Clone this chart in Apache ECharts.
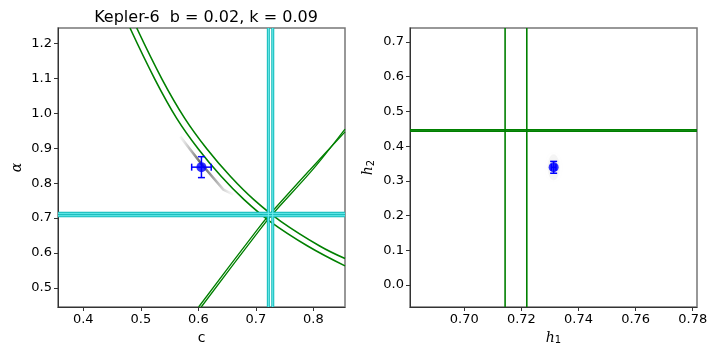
<!DOCTYPE html>
<html>
<head>
<meta charset="utf-8">
<script src="https://cdn.jsdelivr.net/npm/echarts@6/dist/echarts.min.js"></script>
<style>
  html, body { margin: 0; padding: 0; background: #fff; }
  #main { width: 720px; height: 360px; }
</style>
</head>
<body>
<div id="main"></div>
<script>
// left panel: c vs alpha
var leftXTicks = [0.4, 0.5, 0.6, 0.7, 0.8];
var leftYTicks = [0.5, 0.6, 0.7, 0.8, 0.9, 1.0, 1.1, 1.2];
var decOuter = [[0.4812, 1.245], [0.5245, 1.098], [0.5624, 0.986], [0.6, 0.898], [0.64, 0.819], [0.68, 0.752], [0.725, 0.690], [0.79, 0.620], [0.855, 0.563]];
var decInner = [[0.4929, 1.245], [0.537, 1.098], [0.5764, 0.986], [0.615, 0.898], [0.656, 0.819], [0.697, 0.752], [0.744, 0.690], [0.811, 0.620], [0.855, 0.584]];
var incA = [[0.6005, 0.445], [0.7016, 0.665], [0.7247, 0.7116], [0.7943, 0.8387], [0.855, 0.947]];
var incB = [[0.6050, 0.445], [0.7061, 0.665], [0.7292, 0.7116], [0.7988, 0.8387], [0.855, 0.955]];
var cLines = [0.7217, 0.7294];
var aLines = [0.7066, 0.7136];
var streak = [[0.5685, 0.9335], [0.6054, 0.855], [0.6436, 0.7815], [0.661, 0.767]];
var leftPoint = [[0.6054, 0.846, 0.017, 0.03]];

// right panel: h1 vs h2
var rightXTicks = [0.70, 0.72, 0.74, 0.76, 0.78];
var rightYTicks = [0.0, 0.1, 0.2, 0.3, 0.4, 0.5, 0.6, 0.7];
var h1Lines = [0.7143, 0.7219];
var h2Lines = [0.443, 0.447];
var rightPoint = [[0.7313, 0.339, 0.0008, 0.017]];

var leftRange = { xmin: 0.356, xmax: 0.855, ymin: 0.445, ymax: 1.245 };
var rightRange = { xmin: 0.681, xmax: 0.7815, ymin: -0.063, ymax: 0.74 };

var myChart = echarts.init(document.getElementById("main"));

function vline(v, ymin, ymax) { return [[v, ymin], [v, ymax]]; }
function hline(v, xmin, xmax) { return [[xmin, v], [xmax, v]]; }

function lineSeries(data, xi, color, width, z, smooth) {
  return {
    type: "line", xAxisIndex: xi, yAxisIndex: xi, data: data,
    showSymbol: false, symbol: "none", smooth: smooth || false, silent: true, z: z || 3,
    lineStyle: { color: color, width: width }
  };
}

function errorBar(xi, data) {
  return {
    type: "custom", xAxisIndex: xi, yAxisIndex: xi, data: data, z: 10,
    renderItem: function (params, api) {
      var x = api.value(0), y = api.value(1), ex = api.value(2), ey = api.value(3);
      var l = api.coord([x - ex, y]), r = api.coord([x + ex, y]);
      var t = api.coord([x, y + ey]), b = api.coord([x, y - ey]);
      var st = { stroke: "#0000ff", lineWidth: 1.5 };
      var cap = 3.5;
      return {
        type: "group",
        children: [
          { type: "line", shape: { x1: l[0], y1: l[1], x2: r[0], y2: r[1] }, style: st },
          { type: "line", shape: { x1: t[0], y1: t[1], x2: b[0], y2: b[1] }, style: st },
          { type: "line", shape: { x1: l[0], y1: l[1] - cap, x2: l[0], y2: l[1] + cap }, style: st },
          { type: "line", shape: { x1: r[0], y1: r[1] - cap, x2: r[0], y2: r[1] + cap }, style: st },
          { type: "line", shape: { x1: t[0] - cap, y1: t[1], x2: t[0] + cap, y2: t[1] }, style: st },
          { type: "line", shape: { x1: b[0] - cap, y1: b[1], x2: b[0] + cap, y2: b[1] }, style: st }
        ]
      };
    }
  };
}

function valAxis(gi, pos, rng, ticks, dec, name, nameGap, rotate) {
  var isX = pos === "bottom";
  return {
    type: "value", gridIndex: gi, position: pos,
    min: isX ? rng.xmin : rng.ymin, max: isX ? rng.xmax : rng.ymax,
    name: name, nameLocation: "middle", nameGap: nameGap, nameRotate: rotate,
    nameTextStyle: {
      color: "#000", fontFamily: "DejaVu Sans", fontSize: 14,
      rich: {
        i: { fontStyle: "italic", fontSize: 14, fontFamily: "DejaVu Serif" },
        s: { fontSize: 10, fontFamily: "DejaVu Sans", padding: [6, 0, 0, 0] }
      }
    },
    splitLine: { show: false },
    axisLine: { show: true, onZero: false, lineStyle: { color: "#333", width: 1 } },
    axisTick: { show: true, length: 4, inside: false, customValues: ticks, lineStyle: { color: "#333" } },
    axisLabel: {
      show: true, customValues: ticks, color: "#000", fontFamily: "DejaVu Sans", fontSize: 13, margin: 6,
      formatter: function (v) { return v.toFixed(dec); }
    }
  };
}

var option = {
  animation: false,
  backgroundColor: "#fff",
  title: {
    text: "Kepler-6  b = 0.02, k = 0.09",
    left: 201, top: 5, textAlign: "center",
    textStyle: { fontFamily: "DejaVu Sans", fontSize: 16, fontWeight: "normal", color: "#000" }
  },
  grid: [
    { left: 58, top: 28, width: 287, height: 279, show: true, borderColor: "#777", borderWidth: 1.5, backgroundColor: "transparent" },
    { left: 410, top: 28, width: 287, height: 279, show: true, borderColor: "#777", borderWidth: 1.5, backgroundColor: "transparent" }
  ],
  xAxis: [
    valAxis(0, "bottom", leftRange, leftXTicks, 1, "c", 22, 0),
    valAxis(1, "bottom", rightRange, rightXTicks, 2, "{i|h}{s|1}", 22, 0)
  ],
  yAxis: [
    valAxis(0, "left", leftRange, leftYTicks, 1, "{i|\u03b1}", 34, 90),
    valAxis(1, "left", rightRange, rightYTicks, 1, "{i|h}{s|2}", 34, 90)
  ],
  series: [
    // gray posterior streak
    {
      type: "line", xAxisIndex: 0, yAxisIndex: 0, data: streak, showSymbol: false, symbol: "none", silent: true, z: 2,
      lineStyle: {
        width: 2.5,
        color: new echarts.graphic.LinearGradient(0, 0, 1, 0, [
          { offset: 0, color: "rgba(150,150,150,0)" },
          { offset: 0.4, color: "rgba(50,50,50,0.8)" },
          { offset: 0.7, color: "rgba(120,120,120,0.5)" },
          { offset: 1, color: "rgba(180,180,180,0)" }
        ])
      }
    },
    lineSeries(decOuter, 0, "#008000", 1.6, 3, 0.4),
    lineSeries(decInner, 0, "#008000", 1.6, 3, 0.4),
    lineSeries(incA, 0, "#008000", 1.3, 3, 0.3),
    lineSeries(incB, 0, "#008000", 1.3, 3, 0.3),
    lineSeries(vline(cLines[0], leftRange.ymin, leftRange.ymax), 0, "#10b8b8", 3, 4),
    lineSeries(vline(cLines[0], leftRange.ymin, leftRange.ymax), 0, "#70f0f0", 1, 5),
    lineSeries(vline(cLines[1], leftRange.ymin, leftRange.ymax), 0, "#10b8b8", 3, 4),
    lineSeries(vline(cLines[1], leftRange.ymin, leftRange.ymax), 0, "#70f0f0", 1, 5),
    lineSeries(hline(aLines[0], leftRange.xmin, leftRange.xmax), 0, "#10b8b8", 3, 4),
    lineSeries(hline(aLines[0], leftRange.xmin, leftRange.xmax), 0, "#70f0f0", 1, 5),
    lineSeries(hline(aLines[1], leftRange.xmin, leftRange.xmax), 0, "#10b8b8", 3, 4),
    lineSeries(hline(aLines[1], leftRange.xmin, leftRange.xmax), 0, "#70f0f0", 1, 5),
    errorBar(0, leftPoint),
    {
      type: "scatter", xAxisIndex: 0, yAxisIndex: 0, data: leftPoint.map(function (p) { return [p[0], p[1]]; }),
      symbol: "circle", symbolSize: 10, itemStyle: { color: "#0000ff" }, z: 11, silent: true
    },
    // right panel
    lineSeries(vline(h1Lines[0], rightRange.ymin, rightRange.ymax), 1, "#008000", 1.6),
    lineSeries(vline(h1Lines[1], rightRange.ymin, rightRange.ymax), 1, "#008000", 1.6),
    lineSeries(hline(h2Lines[0], rightRange.xmin, rightRange.xmax), 1, "#008000", 1.8),
    lineSeries(hline(h2Lines[1], rightRange.xmin, rightRange.xmax), 1, "#008000", 1.8),
    {
      type: "scatter", xAxisIndex: 1, yAxisIndex: 1, data: rightPoint.map(function (p) { return [p[0], p[1]]; }),
      symbol: "circle", symbolSize: [12, 26], z: 2, silent: true,
      itemStyle: { color: "rgba(160,160,160,0.12)", shadowBlur: 6, shadowColor: "rgba(160,160,160,0.3)" }
    },
    errorBar(1, rightPoint),
    {
      type: "scatter", xAxisIndex: 1, yAxisIndex: 1, data: rightPoint.map(function (p) { return [p[0], p[1]]; }),
      symbol: "circle", symbolSize: 10, itemStyle: { color: "#0000ff" }, z: 11, silent: true
    }
  ]
};
myChart.setOption(option);
</script>
</body>
</html>
